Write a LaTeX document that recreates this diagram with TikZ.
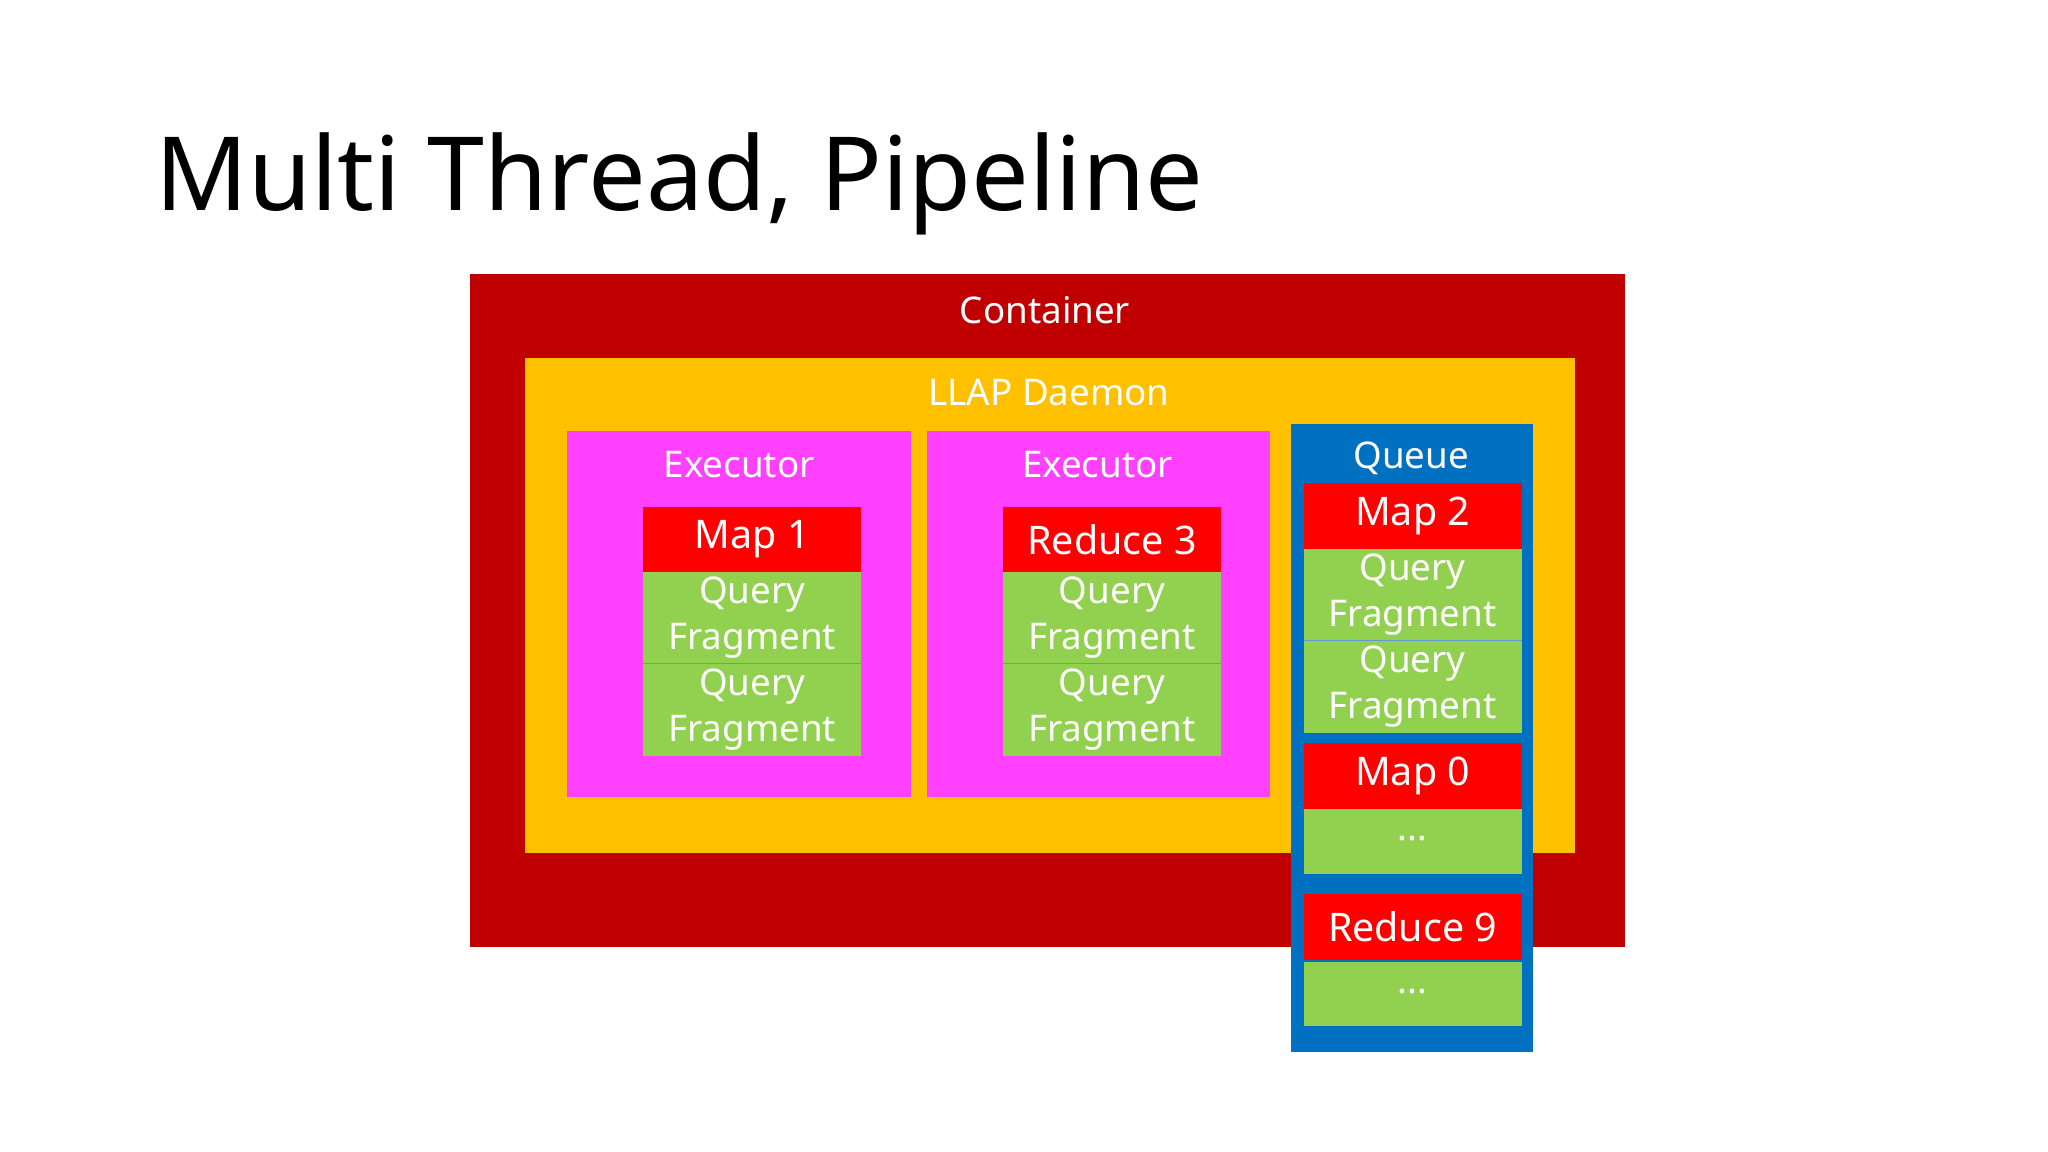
\documentclass[tikz,border=0pt]{standalone}
\usepackage{fontspec}
\setmainfont{Noto Sans}
\definecolor{cont}{HTML}{C00000}
\definecolor{llap}{HTML}{FFC000}
\definecolor{exec}{HTML}{FF40FF}
\definecolor{task}{HTML}{FF0000}
\definecolor{frag}{HTML}{92D050}
\definecolor{queue}{HTML}{0070C0}
\definecolor{sep}{HTML}{5B9BD5}
\begin{document}
\begin{tikzpicture}[x=1pt,y=-1pt,
  box/.style={inner sep=0, outer sep=0, anchor=north west},
  lbl/.style={text=white, font=\fontsize{28}{30}\selectfont, inner sep=0},
  tsk/.style={box, fill=task, minimum width=166pt, minimum height=50pt, text=white, font=\fontsize{30}{32}\selectfont, anchor=north},
  frg/.style={box, fill=frag, minimum width=166pt, minimum height=70pt, text=white, align=center, font=\fontsize{28}{35}\selectfont, anchor=north},
  dts/.style={box, fill=frag, minimum width=166pt, minimum height=49pt, text=white, font=\fontsize{28}{30}\selectfont, anchor=north}]
\useasboundingbox (0,0) rectangle (1560,877.5);
\node[anchor=base west, inner sep=0, font=\fontsize{78}{80}\selectfont] (title) at (118,160) {Multi Thread, Pipeline};
\node[box, fill=cont, minimum width=880pt, minimum height=512pt] (container) at (358,209) {};
\node[lbl] (containerl) at (796,236) {Container};
\node[box, fill=llap, minimum width=800pt, minimum height=377pt] (llap) at (400,273) {};
\node[lbl] (llapl) at (799,299) {LLAP Daemon};
\node[box, fill=exec, minimum width=262pt, minimum height=279pt] (ex1) at (432,328) {};
\node[lbl] (ex1l) at (563,354) {Executor};
\node[box, fill=exec, minimum width=261pt, minimum height=279pt] (ex2) at (706,328) {};
\node[lbl] (ex2l) at (836,354) {Executor};
\node[tsk] (m1) at (573,386) {Map 1};
\node[frg] (q11) at (573,435.5) {Query\\Fragment};
\node[frg] (q12) at (573,505.5) {Query\\Fragment};
\draw[sep, line width=1.2pt] (q12.north west) -- (q12.north east);
\node[tsk] (r3) at (847,386) {Reduce 3};
\node[frg] (q21) at (847,435.5) {Query\\Fragment};
\node[frg] (q22) at (847,505.5) {Query\\Fragment};
\draw[sep, line width=1.2pt] (q22.north west) -- (q22.north east);
\node[box, fill=queue, minimum width=185pt, minimum height=478pt] (queue) at (983,323) {};
\node[lbl] (queuel) at (1075,349) {Queue};
\node[tsk] (m2) at (1076,368) {Map 2};
\node[frg] (q31) at (1076,418) {Query\\Fragment};
\node[frg] (q32) at (1076,488) {Query\\Fragment};
\draw[sep, line width=1.2pt] (q32.north west) -- (q32.north east);
\node[tsk] (m0) at (1076,566) {Map 0};
\node[dts] (d0) at (1076,616.5) {\raisebox{0.3ex}{...}};
\node[tsk] (r9) at (1076,681) {Reduce 9};
\node[dts] (d9) at (1076,732.5) {\raisebox{0.3ex}{...}};
\end{tikzpicture}
\end{document}
